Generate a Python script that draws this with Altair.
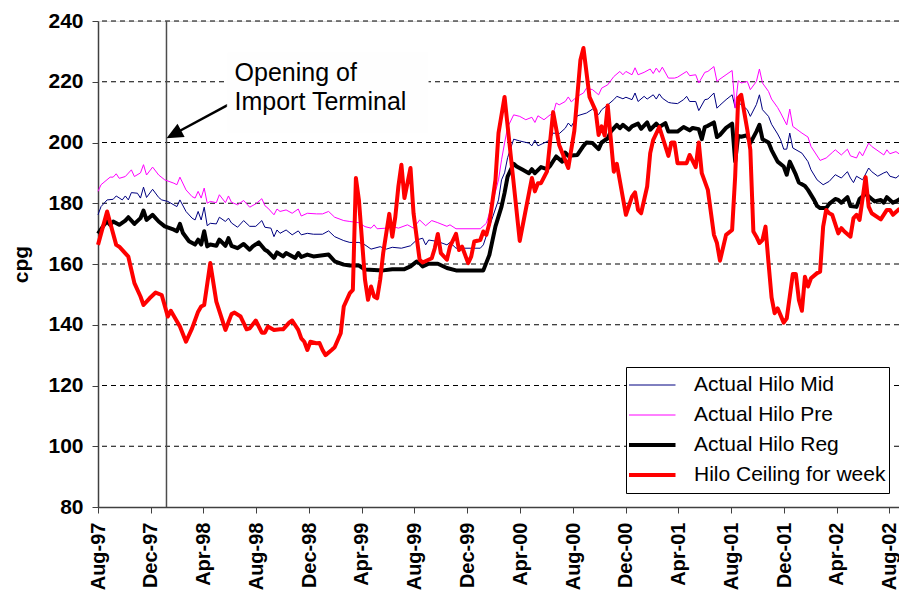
import altair as alt
import pandas as pd
import numpy as np

# ---------------- data (weekly observations, week index from START) ----------------
START = "1997-08-01"
SERIES = ["Actual Hilo Mid", "Actual Hilo Pre", "Actual Hilo Reg", "Hilo Ceiling for week"]
COLORS = ["#000080", "#FF00FF", "#000000", "#FF0000"]
THICK = ["Actual Hilo Reg", "Hilo Ceiling for week"]

mid_week = [0, 1, 3, 5, 6, 8, 9, 10, 11, 13, 14, 15, 16, 18, 20, 21, 23, 26, 27, 29, 31, 32, 33, 34, 35, 36,
            37, 39, 40, 42, 43, 44, 46, 48, 50, 52, 54, 55, 57, 58, 59, 60, 62, 64, 66, 67, 69, 71, 74, 76,
            78, 81, 83, 86, 88, 90, 93, 95, 97, 100, 103, 105, 107, 108, 109, 112, 115, 116, 118, 126, 127,
            129, 132, 133, 134, 135, 137, 139, 142, 143, 144, 145, 148, 149, 150, 152, 154, 155, 156, 158,
            161, 163, 165, 166, 168, 170, 171, 173, 174, 176, 177, 178, 180, 181, 183, 184, 185, 186, 188,
            189, 191, 193, 194, 195, 197, 198, 200, 201, 203, 204, 205, 207, 209, 210, 211, 212, 214, 215,
            217, 218, 219, 221, 222, 224, 225, 226, 227, 228, 229, 232, 234, 235, 237, 239, 241, 243, 245,
            247, 248, 249, 250, 252, 254, 255, 257, 259, 260, 261, 263, 265, 266]
mid_val = [176.2, 178.9, 181.1, 181.3, 182.4, 181.1, 182.4, 181.1, 183.5, 183.3, 181.7, 185.3, 181.9, 184.6,
           181.9, 181.1, 180.6, 178.9, 181.1, 177.3, 175.1, 174.5, 177.3, 174.5, 178.7, 172.6, 173.4, 173.2,
           175.4, 174.0, 175.1, 173.5, 172.1, 174.3, 172.4, 172.4, 174.3, 172.1, 171.8, 169.0, 171.2, 170.1,
           171.2, 169.6, 170.9, 169.6, 170.1, 169.8, 169.8, 170.9, 169.0, 167.7, 167.1, 167.1, 166.3, 164.9,
           165.7, 164.9, 165.5, 165.2, 166.0, 167.9, 168.5, 166.3, 167.9, 167.4, 166.3, 167.1, 165.2, 165.2,
           166.3, 172.3, 181.1, 187.7, 190.0, 195.0, 201.1, 200.5, 199.8, 198.9, 200.8, 198.9, 200.3, 201.1,
           203.1, 202.9, 204.7, 206.4, 205.3, 208.8, 209.7, 211.0, 209.2, 210.8, 212.4, 214.1, 215.2, 214.4,
           214.9, 214.1, 216.3, 213.5, 215.2, 214.3, 215.7, 214.3, 216.0, 214.6, 213.2, 213.0, 212.8, 214.1,
           215.2, 213.5, 213.5, 210.5, 214.1, 214.3, 216.3, 211.3, 212.3, 214.1, 215.7, 211.5, 213.0, 212.5,
           210.8, 208.6, 212.5, 215.7, 210.8, 208.6, 206.0, 202.8, 200.9, 197.8, 197.8, 203.1, 198.2, 196.5,
           193.7, 191.0, 187.7, 186.1, 187.2, 189.4, 188.3, 190.4, 188.3, 186.8, 188.9, 187.7, 191.6, 190.4,
           188.9, 190.0, 190.4, 188.9, 188.3, 190.0, 192.1]

pre_week = [0, 1, 4, 5, 6, 7, 9, 11, 12, 14, 15, 16, 18, 20, 22, 25, 26, 27, 29, 31, 32, 33, 34, 35, 36, 37,
            39, 40, 42, 43, 44, 46, 48, 50, 52, 54, 55, 56, 58, 59, 60, 62, 64, 66, 67, 69, 72, 74, 76, 78,
            81, 83, 86, 88, 90, 91, 92, 95, 97, 99, 102, 104, 106, 108, 110, 112, 115, 116, 118, 126, 128,
            130, 132, 133, 134, 135, 137, 139, 141, 143, 144, 145, 147, 149, 150, 151, 152, 154, 155, 156,
            158, 160, 161, 163, 165, 166, 168, 170, 172, 173, 174, 176, 177, 178, 180, 182, 183, 184, 185,
            186, 188, 190, 191, 194, 195, 197, 198, 200, 201, 203, 204, 205, 207, 209, 210, 211, 212, 214,
            215, 217, 218, 219, 221, 222, 224, 225, 227, 228, 229, 232, 234, 235, 238, 240, 242, 243, 245,
            247, 248, 250, 251, 252, 254, 255, 259, 260, 261, 263, 264, 265, 266]
pre_val = [183.9, 186.1, 188.6, 188.6, 189.7, 188.2, 188.8, 191.0, 188.8, 190.0, 192.7, 189.3, 191.9, 189.3,
           187.7, 186.6, 186.1, 188.6, 184.4, 182.2, 181.7, 183.9, 181.7, 185.0, 180.0, 180.6, 180.2, 182.8,
           180.2, 182.4, 180.3, 179.5, 180.9, 178.7, 179.8, 181.5, 179.2, 178.4, 176.2, 178.1, 177.3, 177.8,
           176.7, 178.1, 175.8, 176.7, 176.5, 176.5, 177.3, 175.4, 174.3, 174.0, 173.6, 172.3, 171.8, 172.9,
           171.6, 171.8, 172.4, 171.8, 172.9, 171.8, 174.5, 172.6, 174.3, 173.6, 172.4, 172.9, 171.6, 171.6,
           173.4, 180.0, 187.7, 194.3, 199.8, 205.0, 209.1, 208.6, 207.5, 208.3, 206.6, 208.8, 207.5, 209.1,
           209.4, 213.0, 212.4, 213.5, 215.0, 213.4, 215.2, 216.3, 217.9, 217.4, 215.7, 217.9, 219.0, 221.7,
           223.4, 222.3, 223.4, 222.3, 224.6, 222.3, 223.1, 224.2, 222.7, 224.5, 223.1, 224.8, 221.2, 221.2,
           221.5, 223.4, 222.0, 222.3, 219.6, 223.1, 223.4, 225.0, 220.1, 220.9, 222.3, 223.7, 211.3, 220.3,
           219.6, 220.1, 217.4, 220.1, 224.2, 219.6, 216.8, 214.3, 211.5, 209.7, 205.8, 211.0, 205.3, 203.1,
           201.8, 198.7, 194.1, 194.9, 196.7, 197.6, 195.9, 197.8, 195.6, 194.9, 197.0, 195.6, 199.8, 198.7,
           195.9, 197.6, 196.3, 197.0, 196.3, 198.7, 199.6]

reg_week = [0, 2, 3, 4, 5, 7, 9, 10, 12, 14, 15, 16, 18, 20, 22, 25, 26, 27, 28, 30, 32, 33, 34, 35, 36, 37,
            39, 40, 42, 43, 44, 46, 48, 50, 51, 53, 55, 56, 58, 59, 61, 62, 65, 66, 67, 69, 71, 76, 78, 81,
            83, 86, 88, 94, 97, 101, 103, 105, 106, 107, 109, 112, 115, 118, 127, 129, 131, 133, 134, 135,
            137, 138, 140, 142, 143, 144, 146, 148, 149, 151, 153, 154, 155, 158, 160, 161, 163, 165, 166,
            168, 169, 171, 172, 173, 175, 176, 178, 179, 181, 182, 184, 185, 187, 188, 191, 193, 195, 196,
            198, 199, 200, 201, 203, 204, 205, 207, 209, 210, 211, 212, 214, 215, 217, 218, 219, 221, 222,
            224, 226, 227, 228, 230, 231, 233, 234, 236, 237, 238, 240, 241, 243, 244, 245, 247, 248, 250,
            251, 253, 255, 256, 258, 259, 260, 262, 263, 265, 266]
reg_val = [170.0, 172.9, 174.0, 172.9, 174.0, 172.9, 174.3, 175.4, 173.2, 175.1, 177.6, 174.5, 176.2, 174.0,
           172.4, 171.3, 170.8, 173.2, 170.2, 167.5, 166.4, 168.0, 166.4, 170.8, 165.8, 166.4, 166.0, 168.0,
           166.0, 168.5, 166.0, 165.2, 166.6, 164.7, 165.8, 167.1, 164.7, 164.1, 162.0, 163.8, 162.5, 163.6,
           162.0, 163.6, 162.3, 163.1, 162.5, 163.1, 160.9, 159.8, 159.5, 159.5, 158.2, 157.9, 158.3, 158.3,
           159.2, 160.8, 160.3, 159.2, 160.1, 160.1, 158.7, 157.9, 157.9, 163.0, 172.4, 178.9, 183.4, 188.8,
           193.0, 192.1, 191.0, 189.9, 191.2, 189.9, 191.9, 191.2, 192.3, 195.4, 193.7, 196.7, 195.6, 195.9,
           198.9, 200.0, 199.8, 197.8, 200.0, 201.4, 203.6, 205.8, 204.7, 205.8, 204.2, 205.3, 206.2, 204.5,
           206.6, 204.2, 206.2, 205.1, 206.4, 203.6, 203.6, 205.1, 204.0, 204.8, 204.4, 201.1, 205.1, 205.5,
           206.6, 201.8, 202.5, 204.8, 206.2, 193.8, 202.2, 201.9, 202.4, 199.8, 203.6, 205.8, 201.1, 200.0,
           197.5, 193.7, 192.1, 189.4, 193.7, 189.4, 186.8, 185.7, 184.4, 181.1, 179.1, 178.4, 178.4, 179.8,
           181.4, 181.1, 180.2, 182.0, 179.1, 178.8, 181.4, 183.1, 181.4, 180.6, 181.1, 180.2, 182.0, 180.2,
           180.6, 181.8, 183.9]

ceil_week = [0, 3, 6, 7, 10, 12, 14, 15, 17, 19, 21, 23, 24, 27, 29, 31, 33, 34, 35, 37, 39, 42, 44, 45, 47,
             49, 50, 52, 54, 55, 56, 58, 60, 61, 63, 64, 66, 67, 68, 69, 70, 72, 73, 74, 75, 77, 78, 80, 81,
             83, 84, 85, 86, 88, 89, 90, 91, 92, 93, 94, 96, 97, 98, 99, 100, 101, 103, 104, 106, 107, 110,
             111, 112, 113, 115, 116, 118, 119, 120, 122, 123, 124, 126, 127, 128, 129, 131, 132, 134, 139,
             143, 144, 145, 146, 148, 150, 152, 155, 157, 159, 160, 162, 164, 165, 166, 167, 168, 170, 171,
             174, 176, 177, 178, 179, 181, 182, 183, 185, 188, 189, 190, 191, 194, 195, 197, 198, 199, 201,
             203, 204, 205, 207, 209, 210, 211, 212, 214, 215, 216, 217, 218, 219, 220, 221, 222, 223, 224,
             226, 227, 228, 229, 230, 231, 232, 233, 234, 235, 237, 238, 239, 240, 241, 242, 244, 245, 246,
             248, 249, 250, 251, 253, 254, 255, 258, 260, 261, 262, 264, 265, 266]
ceil_val = [166.3, 177.3, 166.3, 165.7, 162.4, 153.7, 149.3, 146.5, 148.7, 150.6, 149.8, 142.7, 144.6, 139.4,
            134.4, 138.8, 144.3, 146.0, 146.5, 160.3, 147.6, 138.3, 143.5, 144.0, 142.7, 138.5, 138.8, 141.4,
            137.4, 137.4, 139.4, 138.3, 138.5, 138.5, 140.7, 141.4, 138.3, 135.5, 134.4, 131.7, 134.4, 133.9,
            134.0, 131.7, 130.0, 131.7, 132.6, 137.2, 146.0, 150.4, 151.5, 188.3, 181.0, 154.8, 148.2, 152.6,
            149.3, 148.7, 154.8, 163.6, 176.5, 169.0, 175.6, 185.5, 192.7, 181.7, 191.6, 176.7, 161.4, 160.5,
            161.9, 165.2, 169.9, 163.6, 161.4, 165.7, 169.9, 164.6, 165.7, 160.3, 162.4, 167.4, 167.9, 170.7,
            169.6, 173.4, 187.7, 203.1, 215.0, 167.6, 188.3, 183.9, 186.6, 186.6, 190.5, 210.0, 199.2, 191.6,
            203.9, 227.2, 231.1, 215.0, 210.5, 202.5, 205.3, 202.3, 212.2, 190.4, 193.0, 176.2, 182.2, 183.6,
            177.8, 176.7, 185.5, 196.5, 200.9, 205.1, 195.6, 200.0, 200.0, 193.2, 193.2, 195.9, 191.9, 200.0,
            189.9, 184.4, 169.6, 166.9, 161.1, 169.6, 171.2, 188.8, 214.6, 215.7, 204.2, 197.6, 170.7, 169.0,
            166.9, 167.9, 172.3, 160.3, 149.0, 143.8, 145.4, 140.7, 142.1, 149.3, 156.7, 156.7, 148.2, 144.6,
            155.8, 152.6, 155.3, 157.0, 157.5, 172.3, 177.8, 176.7, 176.2, 170.1, 171.8, 170.7, 169.0, 175.1,
            176.2, 174.5, 188.6, 178.9, 176.7, 174.7, 177.8, 177.8, 176.2, 178.0, 177.8, 174.0]

x_ticks = [(1997, 8), (1997, 12), (1998, 4), (1998, 8), (1998, 12), (1999, 4), (1999, 8), (1999, 12),
           (2000, 4), (2000, 8), (2000, 12), (2001, 4), (2001, 8), (2001, 12), (2002, 4), (2002, 8)]
y_ticks = [80, 100, 120, 140, 160, 180, 200, 220, 240]
grid_vals = [100, 120, 140, 160, 180, 200, 220, 240]

# annotation
TERMINAL_DATE = "1998-01-06"
note_lines = ["Opening of", "Import Terminal"]
note_x = "1998-06-12"
note_y = [220.1, 210.6]
box_x = ["1998-05-26", "1999-09-02"]
box_y = [203.2, 229.6]
arrow_from = ("1998-05-28", 212.4)
arrow_base = ("1998-02-04", 203.7)
arrow_tip = (TERMINAL_DATE, 201.4)

FONT = "Liberation Sans"
BOX_FILL = "#FEFEFE"


def frame(name, weeks, vals):
    d = pd.Timestamp(START) + pd.to_timedelta(np.asarray(weeks) * 7, unit="D")
    return pd.DataFrame({"date": d.strftime("%Y-%m-%d"), "cpg": vals, "series": name})


df = pd.concat([
    frame(SERIES[0], mid_week, mid_val),
    frame(SERIES[1], pre_week, pre_val),
    frame(SERIES[2], reg_week, reg_val),
    frame(SERIES[3], ceil_week, ceil_val),
], ignore_index=True)


def dt(y, m, d=1):
    return alt.DateTime(year=y, month=m, date=d, utc=True)


x_scale = alt.Scale(type="utc", domain=[dt(1997, 8, 1), dt(2002, 8, 23)])
y_scale = alt.Scale(domain=[80, 240], nice=False, zero=False)

x_axis = alt.Axis(values=[dt(y, m) for y, m in x_ticks], format="%b-%y", labelAngle=-90,
                  labelFontSize=20, labelFontWeight="bold", labelFont=FONT, labelColor="black",
                  labelPadding=9, tickSize=6, tickColor="#404040", domainColor="#404040",
                  domainWidth=1.5, grid=False, labelOverlap=False, title=None)
y_axis = alt.Axis(values=y_ticks, labelFontSize=21, labelFontWeight="bold", labelFont=FONT,
                  labelColor="black", labelPadding=9, tickSize=6, tickColor="#404040",
                  domainColor="#404040", domainWidth=1.5, grid=False, title="cpg",
                  titleFontSize=21, titleFontWeight="bold", titleFont=FONT, titleColor="black",
                  titleX=-71, titleY=243, titleAngle=270, titleBaseline="alphabetic", titleAlign="center")

thick_test = " || ".join("datum.value === '%s'" % s for s in THICK)
legend = alt.Legend(title=None, orient="none", legendX=528, legendY=346, symbolType="stroke",
                    symbolSize=2916, clipHeight=30, rowPadding=0, labelFontSize=21, labelFont=FONT,
                    labelColor="black", labelLimit=400, fillColor="white", strokeColor="black",
                    padding=3, symbolOffset=9, labelOffset=35,
                    symbolStrokeWidth={"expr": "(%s) ? 4 : 1" % thick_test})

grid = alt.Chart(pd.DataFrame({"cpg": grid_vals})).mark_rule(
    color="black", strokeWidth=1, strokeDash=[5, 4]).encode(y=alt.Y("cpg:Q", scale=y_scale))

vline = alt.Chart(pd.DataFrame({"date": [TERMINAL_DATE]})).mark_rule(
    color="#4d4d4d", strokeWidth=1.5).encode(x=alt.X("date:T", scale=x_scale))

lines = alt.Chart(df).mark_line(strokeJoin="round").encode(
    x=alt.X("date:T", scale=x_scale, axis=x_axis),
    y=alt.Y("cpg:Q", scale=y_scale, axis=y_axis),
    color=alt.Color("series:N", scale=alt.Scale(domain=SERIES, range=COLORS), legend=legend),
    strokeWidth=alt.condition(alt.FieldOneOfPredicate(field="series", oneOf=THICK),
                              alt.value(4), alt.value(1)),
)

# white label box: an area spanning the box dates between the two cpg limits
box_df = pd.DataFrame({"date": box_x, "cpg": [box_y[0]] * 2, "cpg2": [box_y[1]] * 2})
box = alt.Chart(box_df).mark_area(fill=BOX_FILL, stroke=BOX_FILL, strokeWidth=0.5,
                                  opacity=1, fillOpacity=1, interpolate="linear").encode(
    x="date:T", y="cpg:Q", y2="cpg2:Q")

note = alt.Chart(pd.DataFrame({"date": [note_x] * 2, "cpg": note_y, "label": note_lines})).mark_text(
    align="left", baseline="alphabetic", fontSize=25, font=FONT, color="black").encode(
    x="date:T", y="cpg:Q", text="label:N")

shaft = alt.Chart(pd.DataFrame({"date": [arrow_from[0]], "date2": [arrow_base[0]],
                                "cpg": [arrow_from[1]], "cpg2": [arrow_base[1]]})).mark_rule(
    color="black", strokeWidth=2.5).encode(x="date:T", x2="date2:T", y="cpg:Q", y2="cpg2:Q")

head = alt.Chart(pd.DataFrame({"date": [arrow_tip[0]], "cpg": [arrow_tip[1]]})).mark_point(
    shape="M0,0L-0.45,1L0.45,1Z", filled=True, color="black", opacity=1, size=1100, angle=241.6,
    strokeWidth=0).encode(x="date:T", y="cpg:Q")

chart = alt.layer(grid, vline, lines, shaft, head, box, note).properties(
    width=801, height=486,
    padding={"left": 90, "top": 13, "right": 0, "bottom": 84},
    autosize=alt.AutoSizeParams(type="none"),
).configure_view(fill="#C0C0C0", stroke="transparent").configure(font=FONT)

chart.save("out.html", embed_options={"renderer": "svg", "actions": False})
